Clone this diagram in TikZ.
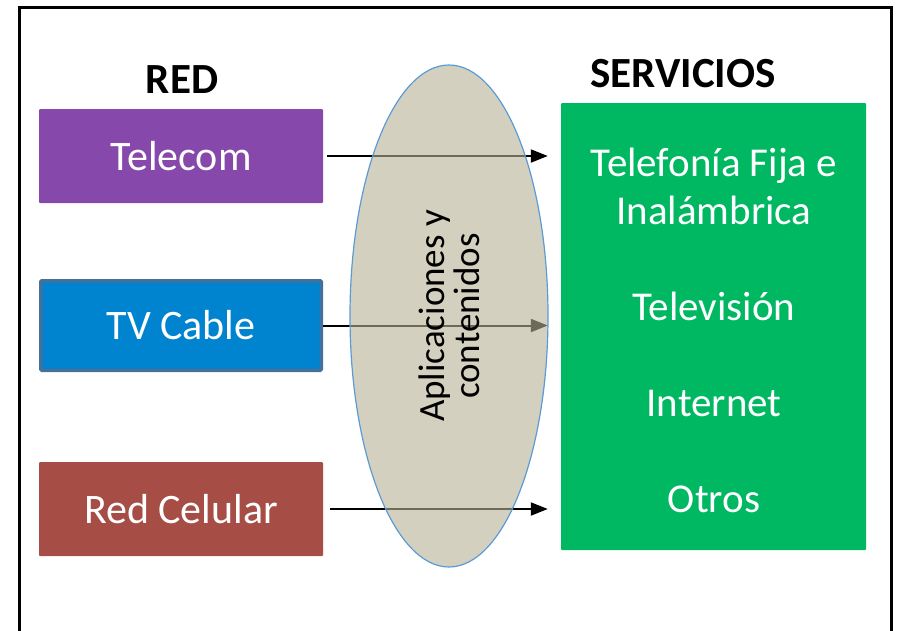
\documentclass[tikz,border=0pt]{standalone}
\usepackage{fontspec}
\setmainfont{Carlito}
\usetikzlibrary{arrows.meta,shapes.geometric,positioning}

\definecolor{telecompurple}{RGB}{134,73,171}
\definecolor{cableblue}{RGB}{0,132,207}
\definecolor{cableedge}{RGB}{65,113,156}
\definecolor{celularred}{RGB}{166,77,69}
\definecolor{serviciosgreen}{RGB}{0,184,98}
\definecolor{appsfill}{RGB}{182,177,150}
\definecolor{appsedge}{RGB}{91,155,213}

\begin{document}
\begin{tikzpicture}[
            x = 1pt, y = -1pt, % one unit per pixel, y going down
            netbox/.style = {rectangle, rounded corners=1pt, text=white,
                minimum width=284pt, minimum height=94pt,
                font=\fontsize{42}{48}\selectfont},
            title/.style = {font=\fontsize{43}{48}\selectfont\bfseries},
            flow/.style = {-{Triangle[length=17pt,width=13pt]}, line width=2pt,
                shorten >=13pt}, % stop before the green box
        ]

	\useasboundingbox (0,0) rectangle (900,630);
	\draw[line width=3pt] (19.5,640) -- (19.5,7.5) -- (891,7.5) -- (891,640);

	% left column
	\node[title] (red) at (182,80) {RED};
	\node[netbox, fill=telecompurple] (telecom) at (181,156) {Telecom};
	\node[netbox, fill=cableblue, draw=cableedge, line width=3.5pt,
	      minimum width=280.5pt, minimum height=89.5pt] (cable) at (181,325.5) {TV Cable};
	\node[netbox, fill=celularred] (celular) at (181,509) {Red Celular};

	% right column
	\node[title] (servicios) at (683,74) {SERVICIOS};
	\node[rectangle, rounded corners=1pt, fill=serviciosgreen, text=white,
	      minimum width=305pt, minimum height=447pt, align=center,
	      font=\fontsize{41}{48}\selectfont] (servicio) at (713.5,326.5) {};
	\node[text=white, align=center, font=\fontsize{41}{48}\selectfont]
	      (serviciotext) at (714,330)
	      {Telefonía Fija e\\Inalámbrica\\[48pt]Televisión\\[48pt]Internet\\[48pt]Otros};

	\draw[flow] ([xshift=4pt]telecom.east) -- (telecom.east -| servicio.west);
	\draw[flow] (cable.east) -- (cable.east -| servicio.west);
	\draw[flow] ([xshift=7pt]celular.east) -- (celular.east -| servicio.west);

	% middle
	\node[ellipse, rotate=90, fill=appsfill, fill opacity=0.6, text opacity=1,
	      draw=appsedge, line width=1.2pt, minimum width=502pt, minimum height=198pt,
	      inner sep=0pt, align=center, font=\fontsize{37}{35}\selectfont]
	      (apps) at (449,316) {Aplicaciones y\\contenidos};

\end{tikzpicture}
\end{document}
